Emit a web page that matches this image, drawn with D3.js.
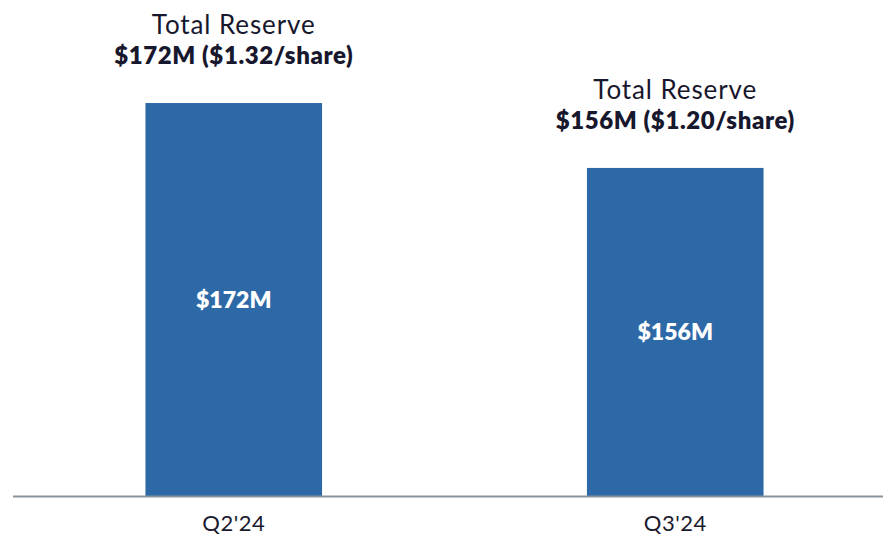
<!DOCTYPE html>
<html>
<head>
<meta charset="utf-8">
<script src="https://cdn.jsdelivr.net/npm/d3@7"></script>
<style>
  body { margin: 0; background: #fff; }
  svg { display: block; font-family: Lato, "Open Sans", sans-serif; }
</style>
</head>
<body>
<svg id="chart" width="883" height="536"></svg>
<script>
// chart data
const quarters = ["Q2'24", "Q3'24"];
const reserves = [172, 156];
const barLabels = ["$172M", "$156M"];
const titleLabels = ["Total Reserve", "Total Reserve"];
const detailLabels = ["$172M ($1.32/share)", "$156M ($1.20/share)"];

const width = 883, height = 536;
const baseY = 496.5;

const svg = d3.select("#chart");

const x = d3.scaleBand()
    .domain(quarters)
    .range([13, 896])
    .paddingInner(0.6)
    .paddingOuter(0.3);

const y = d3.scaleLinear()
    .domain([75, 197.4])
    .range([baseY, 0]);

const rows = quarters.map(function(q, i) {
  return {q: q, v: reserves[i], bar: barLabels[i], title: titleLabels[i], detail: detailLabels[i]};
});

const g = svg.selectAll(".bar")
  .data(rows)
  .enter().append("g")
    .attr("class", "bar");

g.append("rect")
    .attr("x", function(d) { return x(d.q); })
    .attr("y", function(d) { return y(d.v); })
    .attr("width", x.bandwidth())
    .attr("height", function(d) { return baseY - y(d.v); })
    .attr("fill", "#2e69a7");

// value inside the bar
g.append("text")
    .attr("x", function(d) { return x(d.q) + x.bandwidth() / 2; })
    .attr("y", function(d) { return (y(d.v) + baseY) / 2 + 8; })
    .attr("text-anchor", "middle")
    .attr("font-size", 23)
    .attr("font-weight", 800)
    .attr("fill", "#fff")
    .text(function(d) { return d.bar; });

// labels above
g.append("text")
    .attr("x", function(d) { return x(d.q) + x.bandwidth() / 2; })
    .attr("y", function(d) { return y(d.v) - 69; })
    .attr("text-anchor", "middle")
    .attr("font-size", 26)
    .attr("letter-spacing", 0.9)
    .attr("fill", "#17172d")
    .text(function(d) { return d.title; });

g.append("text")
    .attr("x", function(d) { return x(d.q) + x.bandwidth() / 2; })
    .attr("y", function(d) { return y(d.v) - 39; })
    .attr("text-anchor", "middle")
    .attr("font-size", 24)
    .attr("font-weight", 800)
    .attr("letter-spacing", 0.6)
    .attr("fill", "#17172d")
    .text(function(d) { return d.detail; });

// baseline + category axis
const axis = svg.append("g")
    .attr("transform", "translate(0," + baseY + ")")
    .call(d3.axisBottom(x).tickSize(0).tickPadding(0));

axis.select(".domain").remove();
axis.append("line")
    .attr("x1", 13).attr("x2", width)
    .attr("stroke", "#8a9399")
    .attr("stroke-width", 2);

axis.selectAll(".tick text")
    .attr("y", 34)
    .attr("dy", 0)
    .attr("font-family", "Lato, sans-serif")
    .attr("font-size", 22)
    .attr("letter-spacing", 0.5)
    .attr("fill", "#1a1a2e");
</script>
</body>
</html>
